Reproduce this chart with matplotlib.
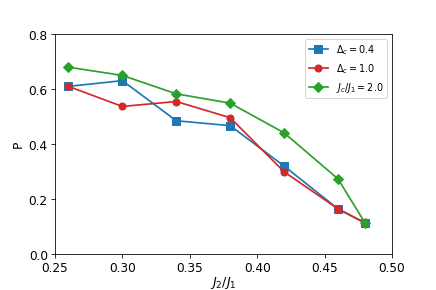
import numpy as np
import matplotlib
matplotlib.use("Agg")
import matplotlib.pyplot as plt

x = [0.26, 0.30, 0.34, 0.38, 0.42, 0.46, 0.48]
p_delta04 = [0.61, 0.631, 0.485, 0.467, 0.32, 0.164, 0.113]
p_delta10 = [0.61, 0.537, 0.555, 0.496, 0.299, 0.164, 0.113]
p_jc20 = [0.68, 0.65, 0.583, 0.549, 0.441, 0.273, 0.113]

fig, ax = plt.subplots(figsize=(6, 4), dpi=436 / 6)
fig.subplots_adjust(left=0.126, right=0.899, top=0.88, bottom=0.124)

ax.plot(x, p_delta04, marker='s', ms=7, lw=1.7, color='tab:blue', label=r'$\Delta_c=0.4$')
ax.plot(x, p_delta10, marker='o', ms=7, lw=1.7, color='tab:red', label=r'$\Delta_c=1.0$')
ax.plot(x, p_jc20, marker='D', ms=6.5, lw=1.7, color='tab:green', label=r'$J_c/J_1=2.0$')

ax.set_xlim(0.25, 0.50)
ax.set_ylim(0, 0.8)
ax.set_yticks(np.arange(0, 0.81, 0.2))
ax.set_xlabel(r'$J_2/J_1$', fontsize=12.5, labelpad=0)
ax.set_ylabel('P', fontsize=12)
ax.tick_params(labelsize=12)
ax.legend(fontsize=9.5)

fig.savefig("out.png")
